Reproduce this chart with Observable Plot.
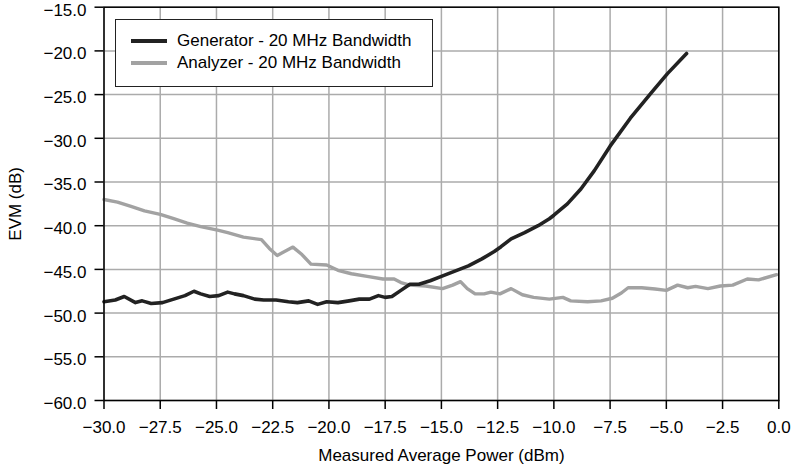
<!DOCTYPE html>
<html>
<head>
<meta charset="utf-8">
<script src="https://cdn.jsdelivr.net/npm/d3@7"></script>
<script src="https://cdn.jsdelivr.net/npm/@observablehq/plot@0.6"></script>
<style>
  html, body { margin: 0; padding: 0; background: #fff; }
  #wrap { position: relative; width: 795px; height: 469px; font-family: "Liberation Sans", Arial, Helvetica, sans-serif; }
  #chart svg { overflow: visible; }
  #legend { position: absolute; left: 115px; top: 19px; width: 316px; height: 66px; border: 1.6px solid #222; background: #fff; }
  .swatch { position: absolute; left: 15px; width: 36px; }
  .lab { position: absolute; left: 61px; font-size: 17px; color: #000; white-space: nowrap; line-height: 20px; }
</style>
</head>
<body>
<div id="wrap"><div id="chart"></div><div id="legend"></div></div>
<script>
// ---- data ----
const seriesNames = ["Generator - 20 MHz Bandwidth", "Analyzer - 20 MHz Bandwidth"];
const seriesColors = ["#222222", "#a2a2a2"];

const genX = [-30.0, -29.5, -29.1, -28.6, -28.3, -27.9, -27.4, -26.9, -26.4, -26.0, -25.7, -25.3, -24.9, -24.5, -24.2, -23.8, -23.3, -22.9, -22.35, -21.8, -21.4, -20.9, -20.5, -20.1, -19.6, -19.1, -18.65, -18.2, -17.8, -17.5, -17.2, -16.8, -16.4, -16.0, -15.5, -15.0, -14.4, -13.8, -13.2, -12.65, -12.35, -11.9, -11.3, -10.7, -10.2, -10.0, -9.4, -8.8, -8.2, -7.5, -6.6, -5.7, -4.95, -4.1];
const genY = [-48.7, -48.5, -48.1, -48.8, -48.6, -48.9, -48.8, -48.4, -48.0, -47.5, -47.8, -48.1, -48.0, -47.6, -47.8, -48.0, -48.4, -48.5, -48.5, -48.7, -48.8, -48.6, -49.0, -48.7, -48.8, -48.6, -48.4, -48.4, -48.0, -48.2, -48.1, -47.4, -46.7, -46.7, -46.3, -45.8, -45.2, -44.6, -43.8, -42.95, -42.4, -41.5, -40.8, -40.0, -39.2, -38.8, -37.5, -35.8, -33.7, -30.9, -27.7, -24.9, -22.6, -20.3];

const anaX = [-30.0, -29.4, -28.8, -28.2, -27.5, -26.9, -26.3, -25.7, -24.95, -24.5, -23.8, -23.0, -22.65, -22.3, -21.6, -21.2, -20.8, -20.1, -19.6, -19.0, -18.3, -17.6, -17.1, -16.8, -16.4, -15.7, -14.95, -14.5, -14.15, -13.85, -13.5, -13.1, -12.8, -12.4, -11.9, -11.4, -10.9, -10.2, -9.6, -9.25, -8.5, -7.9, -7.4, -7.0, -6.7, -6.1, -5.5, -5.0, -4.5, -4.05, -3.7, -3.15, -2.6, -2.05, -1.4, -0.9, -0.1];
const anaY = [-37.0, -37.3, -37.8, -38.3, -38.7, -39.2, -39.7, -40.1, -40.5, -40.8, -41.3, -41.6, -42.6, -43.4, -42.45, -43.3, -44.4, -44.5, -45.1, -45.5, -45.8, -46.1, -46.1, -46.5, -46.8, -46.9, -47.2, -46.8, -46.4, -47.2, -47.8, -47.8, -47.6, -47.8, -47.2, -47.9, -48.2, -48.4, -48.2, -48.6, -48.7, -48.6, -48.3, -47.7, -47.1, -47.1, -47.25, -47.4, -46.8, -47.1, -46.95, -47.2, -46.9, -46.8, -46.1, -46.2, -45.6];

const xTicks = [-30, -27.5, -25, -22.5, -20, -17.5, -15, -12.5, -10, -7.5, -5, -2.5, 0];
const yTicks = [-60, -55, -50, -45, -40, -35, -30, -25, -20, -15];
const xLabel = "Measured Average Power (dBm)";
const yLabel = "EVM (dB)";

// ---- build ----
const gen = genX.map((x, i) => ({x, y: genY[i]}));
const ana = anaX.map((x, i) => ({x, y: anaY[i]}));
const fmt = d3.format(".1f");

const chart = Plot.plot({
  width: 795,
  height: 469,
  marginLeft: 103.5,
  marginRight: 16.7,
  marginTop: 6.7,
  marginBottom: 69,
  style: {fontFamily: '"Liberation Sans", Arial, Helvetica, sans-serif', fontSize: "17px", color: "#000", background: "#fff", overflow: "visible"},
  x: {domain: [-30, 0]},
  y: {domain: [-60, -15]},
  marks: [
    Plot.gridX(xTicks, {stroke: "#ababab", strokeOpacity: 1, strokeWidth: 1.5}),
    Plot.gridY(yTicks, {stroke: "#ababab", strokeOpacity: 1, strokeWidth: 1.5}),
    Plot.line(ana, {x: "x", y: "y", stroke: seriesColors[1], strokeWidth: 3.4, curve: "linear"}),
    Plot.line(gen, {x: "x", y: "y", stroke: seriesColors[0], strokeWidth: 3.6, curve: "linear"}),
    Plot.frame({stroke: "#000", strokeWidth: 1.5}),
    Plot.axisX(xTicks, {tickSize: 9, tickPadding: 11.5, strokeWidth: 1.5, tickFormat: fmt, fontSize: 17,
      label: xLabel, labelAnchor: "center", labelArrow: "none", labelOffset: 60.4}),
    // y tick lines (aligned with grid)
    Plot.axisY(yTicks, {tickSize: 9, strokeWidth: 1.5, tickFormat: () => "", label: null}),
    // y tick labels, nudged slightly below each tick as in the reference
    Plot.axisY(yTicks, {tickSize: 0, tickPadding: 17.5, tickFormat: fmt, fontSize: 17, dy: 3,
      label: yLabel, labelAnchor: "center", labelArrow: "none", labelOffset: 95.5})
  ]
});
document.getElementById("chart").appendChild(chart);

// legend overlay
const legend = document.getElementById("legend");
const rowCenters = [21, 43];
seriesNames.forEach((name, i) => {
  const sw = document.createElement("div");
  sw.className = "swatch";
  const th = i === 0 ? 4 : 3.4;
  sw.style.top = (rowCenters[i] - th / 2) + "px";
  sw.style.height = th + "px";
  sw.style.background = seriesColors[i];
  legend.appendChild(sw);
  const lab = document.createElement("div");
  lab.className = "lab";
  lab.style.top = (rowCenters[i] - 10) + "px";
  lab.textContent = name;
  legend.appendChild(lab);
});
</script>
</body>
</html>
